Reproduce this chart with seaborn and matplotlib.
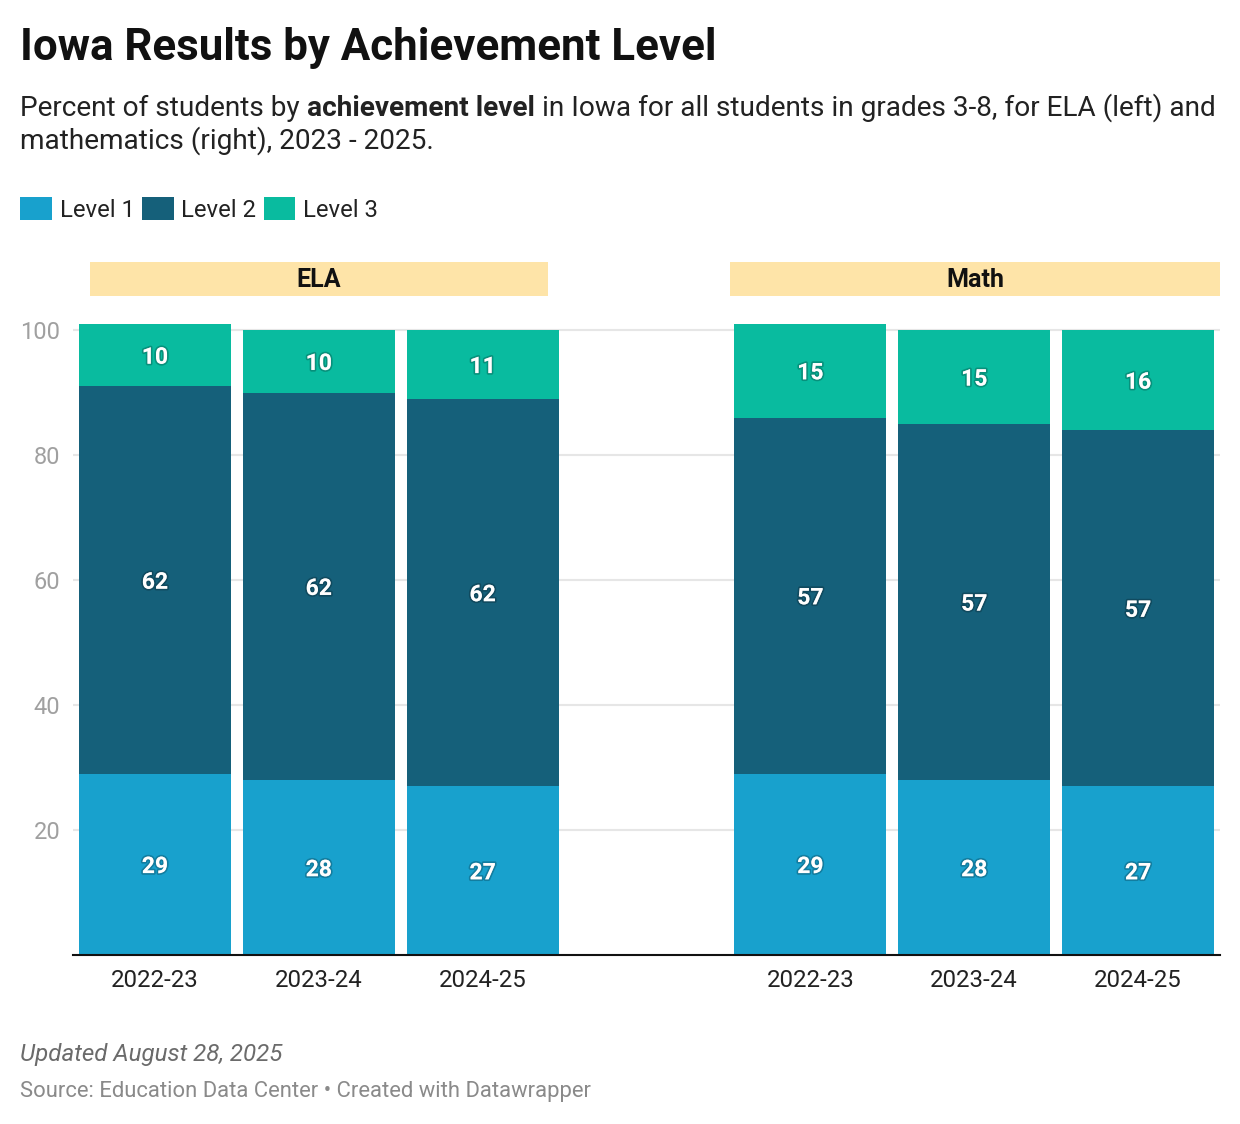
import matplotlib
matplotlib.use("Agg")
import matplotlib.pyplot as plt
import matplotlib.patheffects as pe
from matplotlib.patches import Rectangle, Patch
import seaborn as sns
import pandas as pd

# data
subjects = ["ELA", "ELA", "ELA", "Math", "Math", "Math"]
years = ["2022-23", "2023-24", "2024-25", "2022-23", "2023-24", "2024-25"]
level1 = [29, 28, 27, 29, 28, 27]
level2 = [62, 62, 62, 57, 57, 57]
level3 = [10, 10, 11, 15, 15, 16]
yticks = [20, 40, 60, 80, 100]

level_names = ["Level 1", "Level 2", "Level 3"]
level_colors = ["#18a1cd", "#15607a", "#09bb9f"]

df = pd.DataFrame({"subject": subjects, "year": years,
                   "l1": level1, "l2": level2, "l3": level3})
df["slot"] = df["subject"] + " " + df["year"]
df["top1"] = df["l1"]
df["top2"] = df["l1"] + df["l2"]
df["top3"] = df["top2"] + df["l3"]

# blank slot between the two subjects
order = list(df["slot"][:3]) + ["gap"] + list(df["slot"][3:])

sns.set_theme(style="white")
plt.rcParams["font.family"] = ["Roboto", "DejaVu Sans"]

W, H = 1240, 1124
fig = plt.figure(figsize=(W / 100, H / 100), dpi=100)
ax = fig.add_axes([73 / W, 1 - 955 / H, 1147 / W, (955 - 317.5) / H])

# stacked bars: draw cumulative totals from the top down
for col, color in [("top3", level_colors[2]),
                   ("top2", level_colors[1]),
                   ("top1", level_colors[0])]:
    sns.barplot(data=df, x="slot", y=col, order=order, color=color,
                saturation=1, width=0.927, linewidth=0, errorbar=None, ax=ax)

ax.set_xlim(-0.5, 6.5)
ax.set_ylim(0, 102)
ax.set_yticks(yticks)
ax.set_yticklabels([str(t) for t in yticks])
ax.set_xticks(range(len(order)))
ax.set_xticklabels([s.split(" ")[1] if s != "gap" else "" for s in order])
ax.tick_params(axis="x", length=0, pad=10, labelsize=17.3, labelcolor="#222222")
ax.tick_params(axis="y", length=0, pad=9, labelsize=17, labelcolor="#a0a0a0")
ax.set_xlabel("")
ax.set_ylabel("")
ax.set_axisbelow(True)
ax.yaxis.grid(True, color="#e6e6e6", linewidth=1.5)
for s in ["top", "left", "right"]:
    ax.spines[s].set_visible(False)
ax.spines["bottom"].set_color("#111111")
ax.spines["bottom"].set_linewidth(1.5)

# value labels
glow = [pe.withStroke(linewidth=2.5, foreground=(0, 0, 0, 0.22))]
for _, row in df.iterrows():
    x = order.index(row["slot"])
    for lo, v in [(0, row["l1"]), (row["top1"], row["l2"]), (row["top2"], row["l3"])]:
        ax.text(x, lo + v / 2 - 0.35, str(v), ha="center", va="center", color="white",
                fontsize=16.5, fontweight="bold", path_effects=glow)

# panel headers
for label, x0, x1 in [("ELA", 90, 548), ("Math", 730, 1220)]:
    fig.add_artist(Rectangle((x0 / W, 1 - 296 / H), (x1 - x0) / W, 34 / H,
                             transform=fig.transFigure, facecolor="#fee4a8",
                             edgecolor="none"))
    fig.text((x0 + x1) / 2 / W, 1 - 280 / H, label, ha="center", va="center",
             fontsize=18, fontweight="bold", color="#111111")

# title and subtitle
fig.text(20 / W, 1 - 60 / H, "Iowa Results by Achievement Level", fontsize=31.6,
         fontweight="bold", color="#111111", va="baseline")

r = fig.canvas.get_renderer()
sub_kw = dict(fontsize=20.2, color="#222222", va="baseline")


def width_of(s, **kw):
    t = fig.text(0, 0, s, **kw)
    w = t.get_window_extent(renderer=r).width
    t.remove()
    return w


space = width_of("a a", **sub_kw) - width_of("aa", **sub_kw)
x = 20
for piece, weight in [("Percent of students by", "normal"),
                      ("achievement level", "bold"),
                      ("in Iowa for all students in grades 3-8, for ELA (left) and", "normal")]:
    t = fig.text(x / W, 1 - 116 / H, piece, fontweight=weight, **sub_kw)
    x = t.get_window_extent(renderer=r).x1 + space
fig.text(20 / W, 1 - 149 / H, "mathematics (right), 2023 - 2025.", **sub_kw)

# legend
handles = [Patch(facecolor=c, edgecolor="none") for c in level_colors]
fig.legend(handles, level_names, loc="upper left", bbox_to_anchor=(20 / W, 1 - 197 / H),
           ncol=3, frameon=False, fontsize=17.2, handlelength=1.33, handleheight=1.12,
           handletextpad=0.33, columnspacing=0.3, borderpad=0, borderaxespad=0,
           labelcolor="#222222")

# footer
fig.text(20 / W, 1 - 1061 / H, "Updated August 28, 2025", fontsize=17.4,
         fontstyle="italic", color="#6b6b6b", va="baseline")
fig.text(20 / W, 1 - 1097 / H, "Source: Education Data Center \u2022 Created with Datawrapper",
         fontsize=15.8, color="#8a8a8a", va="baseline")

fig.savefig("out.png", dpi=100, facecolor="white")
